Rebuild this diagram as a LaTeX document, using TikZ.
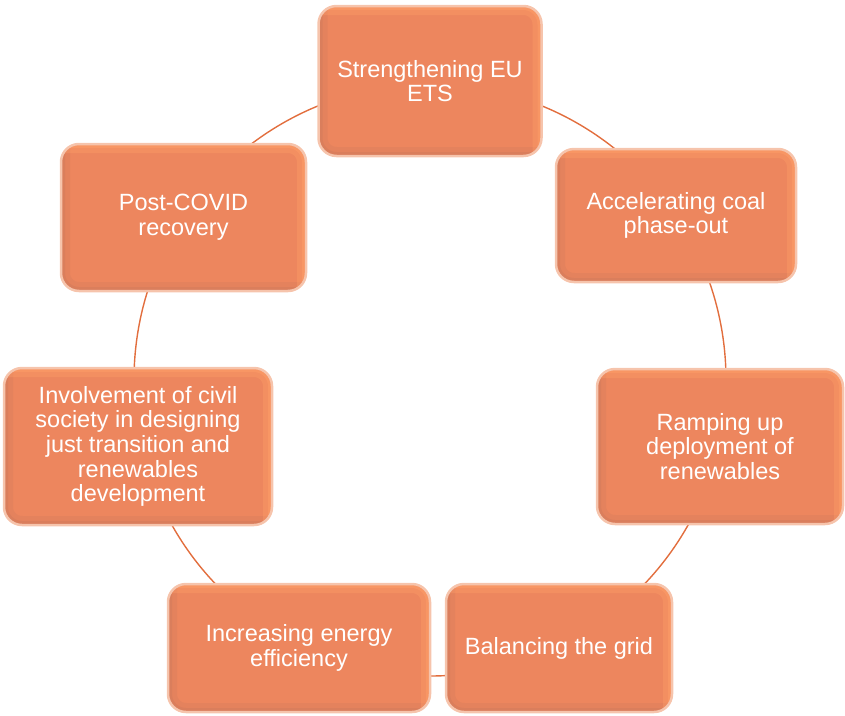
\documentclass[tikz,border=0pt]{standalone}
\usepackage{fontspec}
\setmainfont{Liberation Sans}
\definecolor{boxfill}{RGB}{237,134,94}
\definecolor{boxglow}{RGB}{246,196,172}
\definecolor{boxdark}{RGB}{150,100,90}
\definecolor{boxlight}{RGB}{255,160,105}
\definecolor{ring}{RGB}{226,110,62}
\tikzset{
  box/.style={rounded corners=18pt, fill=boxfill, draw=boxglow, line width=2.5pt,
    inner sep=0pt, align=center, text=white,
    font=\fontsize{23.5}{24.7}\selectfont,
    path picture={
      \draw[line width=18pt, boxdark, opacity=0.10]
        ([yshift=20pt]path picture bounding box.north west) -- (path picture bounding box.south west) -- ([xshift=20pt]path picture bounding box.south east);
      \draw[line width=8pt, boxdark, opacity=0.12]
        ([yshift=20pt]path picture bounding box.north west) -- (path picture bounding box.south west) -- ([xshift=20pt]path picture bounding box.south east);
      \draw[line width=18pt, boxlight, opacity=0.35]
        ([xshift=-20pt]path picture bounding box.north west) -- (path picture bounding box.north east) -- ([yshift=-20pt]path picture bounding box.south east);
      \draw[line width=8pt, boxlight, opacity=0.45]
        ([xshift=-20pt]path picture bounding box.north west) -- (path picture bounding box.north east) -- ([yshift=-20pt]path picture bounding box.south east);
    }},
  ringline/.style={draw=ring, line width=1.4pt}
}
\begin{document}
\begin{tikzpicture}[x=1pt,y=-1pt]
\useasboundingbox (0,0) rectangle (845,715);
\coordinate (c) at (430,380);
\draw[ringline] (c) circle (296);
\node[box, minimum width=223pt, minimum height=150pt] (n1) at (430,81) {Strengthening EU\\ETS};
\node[box, minimum width=240pt, minimum height=133pt] (n2) at (676,215.5) {Accelerating coal\\phase-out};
\node[box, minimum width=246pt, minimum height=155pt] (n3) at (720,446.5) {Ramping up\\deployment of\\renewables};
\node[box, minimum width=226pt, minimum height=128pt] (n4) at (559,648) {Balancing the grid};
\node[box, minimum width=262pt, minimum height=128pt] (n5) at (299,648) {Increasing energy\\efficiency};
\node[box, minimum width=268pt, minimum height=157pt] (n6) at (138,446.5) {Involvement of civil\\society in designing\\just transition and\\renewables\\development};
\node[box, minimum width=245pt, minimum height=147pt] (n7) at (183.5,217.5) {Post-COVID\\recovery};
\end{tikzpicture}
\end{document}
